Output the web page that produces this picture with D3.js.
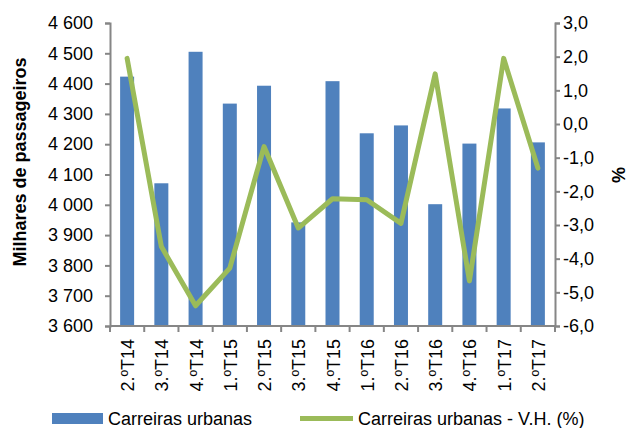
<!DOCTYPE html>
<html>
<head>
<meta charset="utf-8">
<script src="https://cdn.jsdelivr.net/npm/d3@7"></script>
<style>
  body { margin: 0; background: #fff; }
  text { font-family: "Liberation Sans", Arial, sans-serif; fill: #000; }
</style>
</head>
<body>
<svg id="chart" width="628" height="428"></svg>
<script>
// Data
const quarters = ["2.ºT14", "3.ºT14", "4.ºT14", "1.ºT15", "2.ºT15", "3.ºT15", "4.ºT15",
                  "1.ºT16", "2.ºT16", "3.ºT16", "4.ºT16", "1.ºT17", "2.ºT17"];
const passengers = [4423, 4071, 4505, 4334, 4393, 3942, 4408, 4236, 4262, 4002, 4202, 4318, 4206];
const variation = [1.95, -3.64, -5.40, -4.28, -0.67, -3.09, -2.22, -2.25, -2.95, 1.49, -4.66, 1.95, -1.31];
const leftTicks = [3600, 3700, 3800, 3900, 4000, 4100, 4200, 4300, 4400, 4500, 4600];
const rightTicks = [-6, -5, -4, -3, -2, -1, 0, 1, 2, 3];

const svg = d3.select("#chart");
const plotLeft = 110, plotRight = 555, plotTop = 23, plotBottom = 326;
const axisColor = "#868686";

const xBand = d3.scaleBand().domain(quarters).range([plotLeft, plotRight]);
const yL = d3.scaleLinear().domain([3600, 4600]).range([plotBottom, plotTop]);
const yR = d3.scaleLinear().domain([-6, 3]).range([plotBottom, plotTop]);
const cx = d => xBand(d) + xBand.bandwidth() / 2;

// Bars
svg.append("g").selectAll("rect")
  .data(quarters)
  .join("rect")
  .attr("x", d => cx(d) - 7)
  .attr("width", 14)
  .attr("y", (d, i) => yL(passengers[i]))
  .attr("height", (d, i) => plotBottom - yL(passengers[i]))
  .attr("fill", "#4F81BD");

// Line
const line = d3.line()
  .x((d, i) => cx(quarters[i]))
  .y(d => yR(d));
svg.append("path")
  .datum(variation)
  .attr("d", line)
  .attr("fill", "none")
  .attr("stroke", "#9BBB59")
  .attr("stroke-width", 5)
  .attr("stroke-linejoin", "round")
  .attr("stroke-linecap", "round");

const fmtL = d => d3.format(",")(d).replace(",", " ");
const fmtR = d => d.toFixed(1).replace(".", ",");

// Left and right axes
const gL = svg.append("g").attr("transform", `translate(${plotLeft},0)`)
  .call(d3.axisLeft(yL).tickValues(leftTicks).tickFormat(fmtL).tickSize(5).tickSizeOuter(5).tickPadding(12));
const gR = svg.append("g").attr("transform", `translate(${plotRight},0)`)
  .call(d3.axisRight(yR).tickValues(rightTicks).tickFormat(fmtR).tickSize(5).tickSizeOuter(5).tickPadding(3));
[gL, gR].forEach(g => {
  g.select(".domain").attr("stroke", axisColor).attr("stroke-width", 2);
  g.selectAll(".tick line").attr("stroke", axisColor).attr("stroke-width", 2);
  g.selectAll(".tick text").style("font-size", "18px").attr("fill", "#000");
});

// Bottom axis
const gB = svg.append("g").attr("transform", `translate(0,${plotBottom})`);
gB.append("line").attr("x1", plotLeft).attr("x2", plotRight).attr("stroke", axisColor).attr("stroke-width", 2);
gB.selectAll(".tk")
  .data(d3.range(quarters.length + 1))
  .join("line")
  .attr("x1", i => plotLeft + i * xBand.bandwidth())
  .attr("x2", i => plotLeft + i * xBand.bandwidth())
  .attr("y1", 0).attr("y2", 6)
  .attr("stroke", axisColor).attr("stroke-width", 2);
gB.selectAll(".lbl")
  .data(quarters)
  .join("text")
  .attr("transform", d => `translate(${cx(d) + 7},13) rotate(-90)`)
  .attr("text-anchor", "end")
  .style("font-size", "18px")
  .text(d => d);

// Axis titles
svg.append("text")
  .attr("transform", "translate(26,162) rotate(-90)")
  .attr("text-anchor", "middle")
  .style("font-size", "18px").style("font-weight", "bold")
  .text("Milhares de passageiros");
svg.append("text")
  .attr("transform", "translate(612,175) rotate(90)")
  .attr("text-anchor", "middle")
  .style("font-size", "18px").style("font-weight", "bold")
  .text("%");

// Legend
const lg = svg.append("g");
lg.append("rect").attr("x", 52).attr("y", 413).attr("width", 51).attr("height", 11).attr("fill", "#4F81BD");
lg.append("text").attr("x", 108).attr("y", 425).style("font-size", "18px").text("Carreiras urbanas");
lg.append("line").attr("x1", 300).attr("x2", 353).attr("y1", 418.5).attr("y2", 418.5)
  .attr("stroke", "#9BBB59").attr("stroke-width", 5);
lg.append("text").attr("x", 358).attr("y", 425).style("font-size", "18px").text("Carreiras urbanas - V.H. (%)");
</script>
</body>
</html>
